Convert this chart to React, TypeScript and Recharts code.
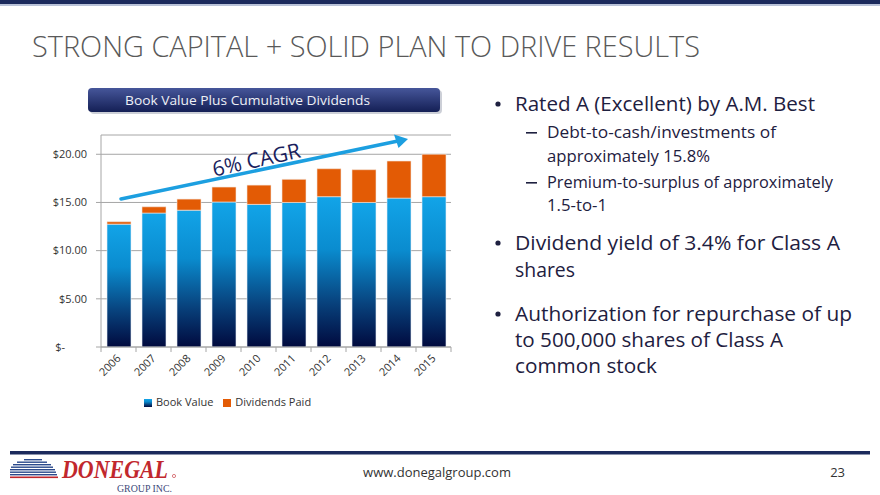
import React from 'react'
import { BarChart, Bar, XAxis, YAxis, CartesianGrid, Legend } from 'recharts'

const years = ['2006', '2007', '2008', '2009', '2010', '2011', '2012', '2013', '2014', '2015']
const bookValue = [12.75, 13.9, 14.2, 15.05, 14.8, 15.0, 15.6, 15.0, 15.45, 15.6]
const dividendsPaid = [0.25, 0.65, 1.15, 1.55, 2.0, 2.4, 2.9, 3.4, 3.85, 4.4]
const yTicks = [0, 5, 10, 15, 20]

const data = years.map((year, i) => ({ year, book: bookValue[i], dividends: dividendsPaid[i] }))

const FONT = '"Open Sans", "Noto Sans", sans-serif'
const AXIS_GRAY = '#a6a6a6'
const TEXT = '#1e2040'

const money = (v: number) => `$${v.toFixed(2)}`

const MoneyTick = ({ x, y, payload }: any) => {
  const zero = payload.value === 0
  return (
    <text x={zero ? x - 22 : x} y={y} dy="0.35em" textAnchor="end" fontSize={11} fill="#333" fontFamily={FONT}>
      {zero ? '$-' : money(payload.value)}
    </text>
  )
}

// year labels rotated, tick marks sit on the band edges
const YearTick = ({ x, y, payload, index }: any) => {
  const half = payload.offset || 17.5
  return (
    <g>
      <line x1={x - half} y1={y} x2={x - half} y2={y + 5} stroke={AXIS_GRAY} />
      {index === years.length - 1 && <line x1={x + half} y1={y} x2={x + half} y2={y + 5} stroke={AXIS_GRAY} />}
      <text transform={`translate(${x + 3},${y + 12}) rotate(-45)`} textAnchor="end" fontSize={11} fill="#333" fontFamily={FONT}>
        {payload.value}
      </text>
    </g>
  )
}

const bullets = [
  { x: 515, y: 111, w: 300, t: 'Rated A (Excellent) by A.M. Best', dot: true, size: 20 },
  { x: 547, y: 138, w: 229, t: 'Debt-to-cash/investments of', dash: true, size: 17 },
  { x: 547, y: 162, w: 163, t: 'approximately 15.8%', size: 17 },
  { x: 547, y: 188, w: 286, t: 'Premium-to-surplus of approximately', dash: true, size: 17 },
  { x: 547, y: 211, w: 60, t: '1.5-to-1', size: 17 },
  { x: 515, y: 250, w: 325, t: 'Dividend yield of 3.4% for Class A', dot: true, size: 20 },
  { x: 515, y: 277, w: 60, t: 'shares', size: 20 },
  { x: 515, y: 321, w: 337, t: 'Authorization for repurchase of up', dot: true, size: 20 },
  { x: 515, y: 347, w: 268, t: 'to 500,000 shares of Class A', size: 20 },
  { x: 515, y: 373, w: 142, t: 'common stock', size: 20 },
]

const stripes = [
  { y: 459, x1: 24, x2: 42 },
  { y: 461.5, x1: 17, x2: 47 },
  { y: 464, x1: 13, x2: 51 },
  { y: 466.5, x1: 11, x2: 53 },
  { y: 469, x1: 10, x2: 55 },
  { y: 471.5, x1: 10, x2: 56 },
  { y: 474, x1: 10, x2: 57 },
]

export default function App() {
  return (
    <div style={{ position: 'absolute', left: 0, top: 0, width: 880, height: 495, background: '#fff', overflow: 'hidden', fontFamily: FONT }}>
      <svg width={880} height={495} style={{ position: 'absolute', left: 0, top: 0 }}>
        <defs>
          <linearGradient id="hdr" x1="0" y1="0" x2="0" y2="1">
            <stop offset="0%" stopColor="#46569a" />
            <stop offset="100%" stopColor="#141f55" />
          </linearGradient>
        </defs>
        <rect x={0} y={0} width={880} height={4} fill="#1b2a5c" />
        <rect x={0} y={4} width={880} height={2} fill="#b9c2d8" />
        <text x={32} y={57} fontSize={29} fontWeight={300} fill="#595959" fontFamily={FONT} textLength={668} lengthAdjust="spacingAndGlyphs">
          STRONG CAPITAL + SOLID PLAN TO DRIVE RESULTS
        </text>
        <rect x={90} y={90} width={352} height={24} rx={4} fill="#9aa0b0" opacity={0.5} />
        <rect x={88} y={88} width={352} height={24} rx={4} fill="url(#hdr)" />
        <text x={125} y={105} fontSize={13} fill="#eef0f6" fontFamily={FONT} textLength={245} lengthAdjust="spacingAndGlyphs">
          Book Value Plus Cumulative Dividends
        </text>
        {bullets.map((b, i) => (
          <g key={i}>
            {b.dot && <circle cx={498} cy={b.y - 7} r={2.6} fill={TEXT} />}
            {b.dash && <rect x={526} y={b.y - 6} width={11} height={1.6} fill={TEXT} />}
            <text x={b.x} y={b.y} fontSize={b.size} fill={TEXT} fontFamily={FONT} textLength={b.w} lengthAdjust="spacingAndGlyphs">
              {b.t}
            </text>
          </g>
        ))}
        <rect x={10} y={451} width={860} height={3.5} fill="#1b2a5c" />
        {stripes.map((s, i) => (
          <rect key={i} x={s.x1} y={s.y} width={s.x2 - s.x1} height={1.4} fill="#2b4a8c" />
        ))}
        <rect x={10} y={476.5} width={48} height={1.6} fill="#c1272d" />
        <text x={62} y={478} fontSize={25} fontWeight="bold" fontStyle="italic" fill="#c1272d" fontFamily='"Liberation Serif", serif' textLength={106} lengthAdjust="spacingAndGlyphs">
          DONEGAL
        </text>
        <circle cx={174} cy={476} r={1.6} fill="none" stroke="#c1272d" strokeWidth={0.6} />
        <text x={117} y={492} fontSize={9.5} fill="#3d4a7a" fontFamily='"Liberation Serif", serif' textLength={55} lengthAdjust="spacingAndGlyphs">
          GROUP INC.
        </text>
        <text x={437} y={477} fontSize={13} textAnchor="middle" fill="#333" fontFamily={FONT}>www.donegalgroup.com</text>
        <text x={845} y={477} fontSize={13} textAnchor="end" fill="#333" fontFamily={FONT}>23</text>
      </svg>

      <div style={{ position: 'absolute', left: 40, top: 120 }}>
        <BarChart width={420} height={300} data={data} margin={{ top: 15, right: 9, left: 0, bottom: 28 }} barSize={24}>
          <defs>
            <linearGradient id="bookGrad" x1="0" y1="0" x2="0" y2="1">
              <stop offset="0%" stopColor="#12a4e8" />
              <stop offset="35%" stopColor="#0a8ccf" />
              <stop offset="70%" stopColor="#08437e" />
              <stop offset="100%" stopColor="#010a3e" />
            </linearGradient>
          </defs>
          <CartesianGrid vertical={false} stroke={AXIS_GRAY} />
          <XAxis dataKey="year" height={45} tickSize={0} tickMargin={0} tickLine={false} axisLine={{ stroke: AXIS_GRAY }} tick={<YearTick />} interval={0} />
          <YAxis width={61} domain={[0, 22]} ticks={yTicks} tickSize={5} tickMargin={9} tickLine={{ stroke: AXIS_GRAY }} axisLine={{ stroke: AXIS_GRAY }} tick={<MoneyTick />} />
          <Legend
            verticalAlign="middle"
            align="center"
            iconType="square"
            iconSize={8}
            wrapperStyle={{ top: 274, left: 104, width: 'auto', fontSize: 11, color: '#333', fontFamily: FONT }}
            formatter={(v: string) => <span style={{ color: '#333' }}>{v}</span>}
          />
          <Bar dataKey="book" name="Book Value" stackId="a" fill="url(#bookGrad)" stroke="#e8eef6" strokeWidth={0.6} isAnimationActive={false} />
          <Bar dataKey="dividends" name="Dividends Paid" stackId="a" fill="#e35b05" stroke="#f3e6dc" strokeWidth={0.6} isAnimationActive={false} />
        </BarChart>
      </div>

      <svg width={880} height={495} style={{ position: 'absolute', left: 0, top: 0, pointerEvents: 'none' }}>
        <line x1={121} y1={199} x2={398} y2={141} stroke="#1c9fe0" strokeWidth={3.5} strokeLinecap="round" />
        <polygon points="408,139 394,134.5 398.5,148" fill="#1c9fe0" />
        <text transform="translate(258,167) rotate(-12.5)" textAnchor="middle" fontSize={21} fill="#1a1f5e" fontFamily={FONT}>
          6% CAGR
        </text>
      </svg>
    </div>
  )
}
